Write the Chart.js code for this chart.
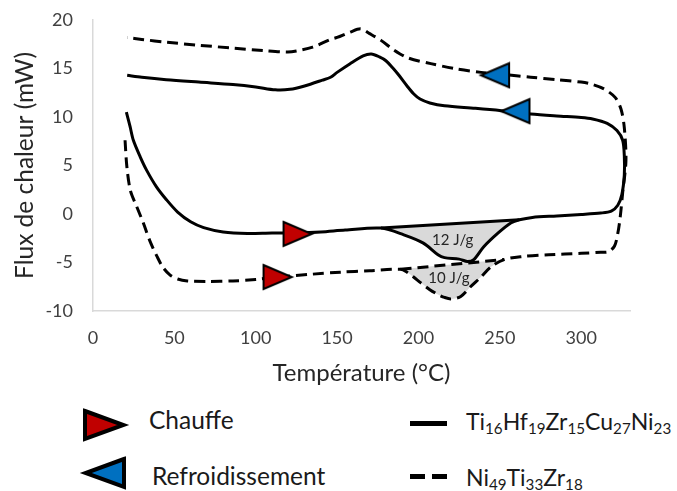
<!DOCTYPE html>
<html>
<head>
<meta charset="utf-8">
<script src="https://cdn.jsdelivr.net/npm/chart.js@4.4.1/dist/chart.umd.min.js"></script>
<style>
  body { margin: 0; background: #fff; }
  #wrap { position: relative; width: 677px; height: 491px; font-family: Lato, sans-serif; color: #1a1a1a; }
  #dsc { position: absolute; left: 0; top: 0; }
  .lg { position: absolute; font-size: 23px; line-height: 28px; white-space: nowrap; }
  .lg.big { font-size: 24.5px; }
  .lg sub { font-size: 0.66em; vertical-align: -0.28em; line-height: 0; }
  .tri { position: absolute; }
  .ln { position: absolute; height: 5px; background: #000; }
</style>
</head>
<body>
<div id="wrap">
  <canvas id="dsc" width="677" height="400"></canvas>

  <canvas class="tri" id="legHeat" style="left:82px;top:408px"></canvas>
  <div class="lg big" style="left:149px;top:406px">Chauffe</div>
  <canvas class="tri" id="legCool" style="left:79px;top:456px"></canvas>
  <div class="lg big" style="left:152px;top:462px">Refroidissement</div>

  <div class="ln" style="left:410px;top:421px;width:37px"></div>
  <div class="lg" style="left:466px;top:407px">Ti<sub>16</sub>Hf<sub>19</sub>Zr<sub>15</sub>Cu<sub>27</sub>Ni<sub>23</sub></div>
  <div class="ln" style="left:410px;top:474px;width:15px"></div>
  <div class="ln" style="left:432px;top:474px;width:15px"></div>
  <div class="lg" style="left:466px;top:463px">Ni<sub>49</sub>Ti<sub>33</sub>Zr<sub>18</sub></div>
</div>

<script>
// Ti16Hf19Zr15Cu27Ni23 (solid) - heating then cooling branch
const tiHeatT = [20.5, 22.8, 24.8, 29, 33, 39, 45, 52, 60, 68, 80, 95, 110, 126, 140, 155, 177, 191, 203, 212, 216, 225, 230, 234, 240, 249, 257, 262, 270, 285, 300, 312, 318.5, 322.5, 325, 326.5];
const tiHeatQ = [10.5, 9.0, 7.6, 5.9, 4.5, 2.8, 1.5, 0.2, -0.8, -1.4, -1.85, -2.0, -1.95, -1.95, -1.85, -1.65, -1.45, -2.15, -3.0, -4.2, -4.5, -4.65, -4.9, -4.7, -3.4, -1.95, -0.9, -0.6, -0.35, -0.2, -0.05, 0.1, 0.3, 0.9, 2.0, 4.0];
const tiCoolT = [326.5, 325.5, 322, 316, 307, 300, 285, 269, 251, 235, 216, 207, 201, 197, 193, 188, 184, 180, 176, 171, 166, 158, 150, 146, 141, 130, 121, 112, 100, 86, 65, 45, 30, 21];
const tiCoolQ = [6.0, 7.6, 8.6, 9.35, 9.8, 9.95, 10.1, 10.3, 10.65, 10.9, 11.15, 11.45, 11.85, 12.4, 13.2, 14.3, 15.1, 15.8, 16.2, 16.5, 16.3, 15.5, 14.6, 14.1, 13.8, 13.2, 12.85, 12.8, 13.1, 13.35, 13.6, 13.85, 14.1, 14.3];

// Ni49Ti33Zr18 (dashed)
const niHeatT = [19.7, 20.8, 23, 26.9, 31, 35, 39.4, 43, 47.4, 52, 58, 70, 86, 100, 114, 135, 152, 170, 189, 193, 197, 201.5, 207, 212, 216, 220, 226, 232, 238.4, 244.6, 252.6, 263, 280, 300, 312, 316.7, 320.5, 322.5, 324, 325.5, 327.5];
const niHeatQ = [7.6, 4.9, 2.4, 0.75, -0.95, -2.8, -4.4, -5.5, -6.3, -6.7, -6.9, -6.95, -6.9, -6.75, -6.5, -6.2, -6.0, -5.85, -5.7, -6.0, -6.5, -7.1, -7.8, -8.3, -8.6, -8.75, -8.5, -7.5, -6.5, -5.45, -4.7, -4.4, -4.2, -4.05, -3.95, -3.9, -3.3, -2.0, -0.3, 2.2, 5.5];
const niCoolT = [326.5, 324.5, 321, 314, 306, 300, 285, 269, 254, 238.5, 222, 207.6, 193.5, 185, 177, 170, 164.5, 158, 150, 146, 135, 125, 119.5, 105, 86, 65, 45.6, 30, 21];
const niCoolQ = [8.9, 10.8, 12.0, 12.9, 13.4, 13.6, 13.85, 14.1, 14.35, 14.6, 15.0, 15.5, 16.1, 16.9, 17.9, 18.6, 19.1, 18.75, 18.2, 18.0, 17.2, 16.8, 16.7, 16.85, 17.1, 17.4, 17.7, 18.0, 18.2];

// integration baselines of the peaks (start / end)
const tiBaseT = [177, 262];
const tiBaseQ = [-1.45, -0.6];
const niBaseT = [189, 252.6];
const niBaseQ = [-5.7, -4.7];
const peakLabels = ['12 J/g', '10 J/g'];

// direction arrows: [Ti, Ni]
const heatMarkT = [126.3, 114];
const heatMarkQ = [-2.05, -6.5];
const coolMarkT = [259, 246.5];
const coolMarkQ = [10.6, 14.3];

const xTicks = [0, 50, 100, 150, 200, 250, 300];

const pts = (T, Q) => T.map((t, i) => ({ x: t, y: Q[i] }));
const between = (T, Q, a, b) => pts(T, Q).filter(p => p.x >= a && p.x <= b);

function triangle(w, h, fill, dir, lw) {
  const c = document.createElement('canvas');
  c.width = w; c.height = h;
  const g = c.getContext('2d');
  const m = lw / 2 + 1;
  const tip = lw * 1.4 + 1;
  g.beginPath();
  if (dir > 0) {
    g.moveTo(m, m); g.lineTo(w - tip, h / 2); g.lineTo(m, h - m);
  } else {
    g.moveTo(w - m, m); g.lineTo(tip, h / 2); g.lineTo(w - m, h - m);
  }
  g.closePath();
  g.fillStyle = fill;
  g.fill();
  g.lineWidth = lw;
  g.lineJoin = 'miter';
  g.strokeStyle = '#000';
  g.stroke();
  return c;
}

const RED = '#c00000', BLUE = '#0070c0';
const redTri = triangle(34, 28, RED, 1, 2);
const blueTri = triangle(34, 28, BLUE, -1, 2);

function paintLegendTri(id, fill, dir) {
  const src = triangle(48, 34, fill, dir, 4);
  const c = document.getElementById(id);
  c.width = src.width; c.height = src.height;
  c.getContext('2d').drawImage(src, 0, 0);
}
paintLegendTri('legHeat', RED, 1);
paintLegendTri('legCool', BLUE, -1);

const peakLabelPlugin = {
  id: 'peakLabels',
  afterDatasetsDraw(chart) {
    const { ctx, scales: { x, y } } = chart;
    const anchors = [[221, -2.7], [218.7, -6.6]];
    ctx.save();
    ctx.font = '15px Lato';
    ctx.fillStyle = '#262626';
    ctx.textAlign = 'center';
    ctx.textBaseline = 'middle';
    peakLabels.forEach((t, i) => {
      ctx.fillText(t, x.getPixelForValue(anchors[i][0]), y.getPixelForValue(anchors[i][1]));
    });
    ctx.restore();
  }
};

const line = { showLine: true, pointRadius: 0, borderColor: '#000', borderWidth: 3, tension: 0.3, fill: false };

new Chart(document.getElementById('dsc'), {
  type: 'scatter',
  data: {
    datasets: [
      { ...line, label: 'Ti16Hf19Zr15Cu27Ni23', data: pts(tiHeatT.concat(tiCoolT), tiHeatQ.concat(tiCoolQ)), order: 2 },
      { ...line, label: 'Ni49Ti33Zr18', data: pts(niHeatT.concat(niCoolT), niHeatQ.concat(niCoolQ)), borderDash: [11, 6], order: 2 },
      { ...line, label: 'base Ti', data: pts(tiBaseT, tiBaseQ), tension: 0, order: 2 },
      { ...line, label: 'base Ni', data: pts(niBaseT, niBaseQ), tension: 0, borderDash: [11, 6], order: 2 },
      { ...line, label: 'peak Ti', data: between(tiHeatT, tiHeatQ, tiBaseT[0], tiBaseT[1]), borderWidth: 0, backgroundColor: '#d9d9d9', fill: 2, order: 3 },
      { ...line, label: 'peak Ni', data: between(niHeatT, niHeatQ, niBaseT[0], niBaseT[1]), borderWidth: 0, backgroundColor: '#d9d9d9', fill: 3, order: 3 },
      { label: 'Chauffe', data: pts(heatMarkT, heatMarkQ), pointStyle: redTri, pointRadius: 10, order: 1 },
      { label: 'Refroidissement', data: pts(coolMarkT, coolMarkQ), pointStyle: blueTri, pointRadius: 10, order: 1 }
    ]
  },
  options: {
    responsive: false,
    animation: false,
    devicePixelRatio: 1,
    layout: { padding: { top: 20, right: 47, bottom: 0, left: 0 } },
    plugins: { legend: { display: false }, tooltip: { enabled: false } },
    scales: {
      x: {
        type: 'linear', min: 0, max: 330,
        afterFit: s => { s.height = 89; },
        afterBuildTicks: s => { s.ticks = xTicks.map(v => ({ value: v })); },
        grid: { drawOnChartArea: false, drawTicks: false },
        border: { color: '#d9d9d9', width: 1.5 },
        ticks: { padding: 16, color: '#404040', font: { family: 'Lato', size: 18 } },
        title: { display: true, text: 'Température (°C)', color: '#262626', font: { family: 'Lato', size: 24 }, padding: { top: 0, bottom: 12 } }
      },
      y: {
        min: -10, max: 20,
        afterFit: s => { s.width = 93; s.paddingTop = 0; s.paddingBottom = 0; },
        grid: { drawOnChartArea: false, drawTicks: false },
        border: { color: '#d9d9d9', width: 1.5 },
        ticks: { stepSize: 5, padding: 20, color: '#404040', font: { family: 'Lato', size: 18 } },
        title: { display: true, text: 'Flux de chaleur (mW)', color: '#262626', font: { family: 'Lato', size: 24.5 }, padding: { top: 10, bottom: 0 } }
      }
    }
  },
  plugins: [peakLabelPlugin]
});
</script>
</body>
</html>
